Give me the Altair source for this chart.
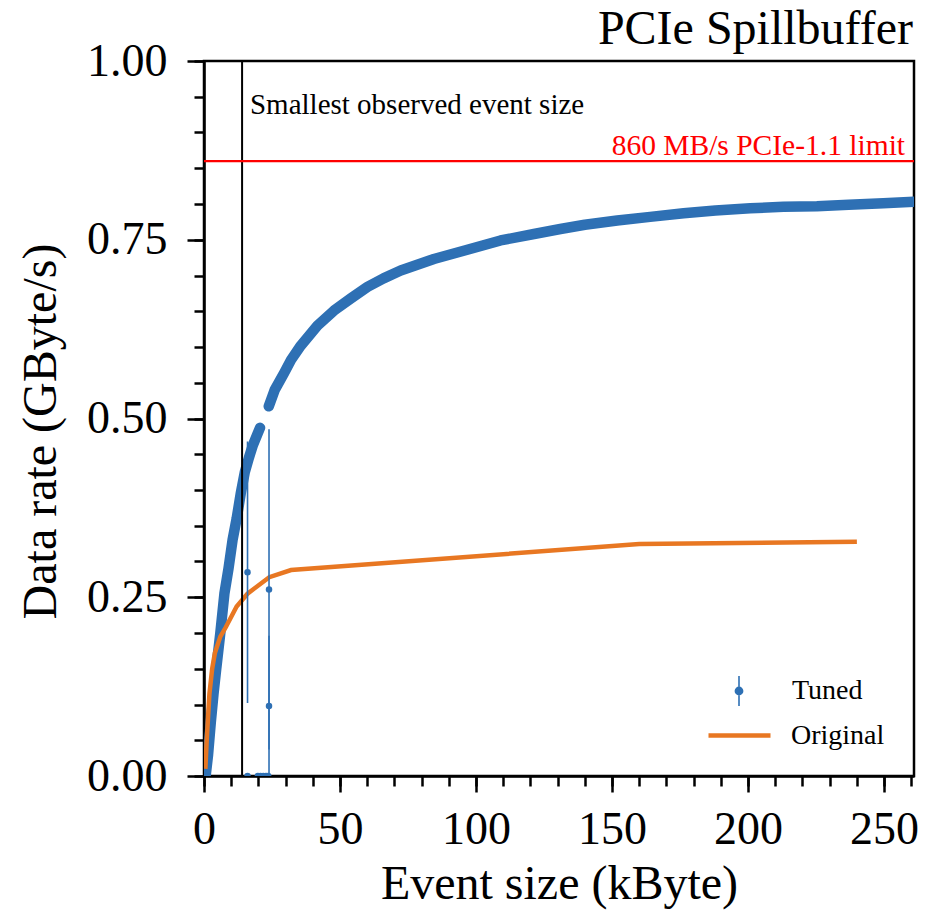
import altair as alt
import pandas as pd

BLUE = "#2e70b4"
ORANGE = "#e87722"
RED = "#ff0000"
FONT = "Liberation Serif"

# ---- Tuned measurement (dense points forming a band), two runs ----
tuned_a_x = [0.6, 1.5, 2.5, 3.5, 4.5, 6.0, 7.5, 9.0, 10.5, 12.0, 13.5, 15.0, 16.5, 18.0, 19.5, 20.6]
tuned_a_y = [0.0, 0.03, 0.075, 0.115, 0.15, 0.2, 0.255, 0.29, 0.33, 0.36, 0.395, 0.425, 0.445, 0.463, 0.477, 0.487]
tuned_b_x = [23.8, 26.0, 29.5, 32.0, 35.6, 41.7, 47.8, 54.0, 60.1, 66.0, 72.3, 84.5, 96.8, 109.0,
             121.3, 131.0, 140.0, 151.9, 164.0, 176.3, 188.0, 200.8, 213.0, 225.3, 237.0, 249.7, 261.0]
tuned_b_y = [0.517, 0.540, 0.564, 0.582, 0.602, 0.630, 0.651, 0.668, 0.684, 0.696, 0.707, 0.723, 0.736, 0.749,
             0.758, 0.765, 0.771, 0.777, 0.782, 0.787, 0.791, 0.794, 0.796, 0.797, 0.799, 0.801, 0.803]

# ---- Tuned isolated points with error bars ----
pts_x = [16.0, 23.9, 23.9, 16.0, 19.8, 20.8, 21.8, 22.8, 23.6]
pts_y = [0.285, 0.261, 0.098, 0.0, 0.0, 0.0, 0.0, 0.0, 0.0]
pts_lo = [0.102, 0.037, 0.0, 0.0, 0.0, 0.0, 0.0, 0.0, 0.0]
pts_hi = [0.468, 0.485, 0.196, 0.0, 0.0, 0.0, 0.0, 0.0, 0.0]

# ---- Original ----
orig_x = [0.5, 1, 2, 3, 4, 6, 8, 12, 16, 24, 32, 160, 240]
orig_y = [0.01, 0.05, 0.115, 0.15, 0.172, 0.195, 0.208, 0.237, 0.255, 0.278, 0.288, 0.3244, 0.3275]

# ---- reference lines / annotations ----
min_event_x = [14.0]
pcie_limit_y = [0.86]
ann_text = ["Smallest observed event size"]
ann_x = [16.9]
ann_y = [0.926]
lim_text = ["860 MB/s PCIe-1.1 limit"]
lim_x = [257.7]
lim_y = [0.8685]
title_text = "PCIe Spillbuffer"

x_major = [0, 50, 100, 150, 200, 250]
x_minor = list(range(0, 261, 10))
y_major = [0.0, 0.25, 0.5, 0.75, 1.0]
y_minor = [round(i * 0.05, 2) for i in range(21)]

W, H = 710, 715

band = pd.DataFrame({
    "x": tuned_a_x + tuned_b_x,
    "y": tuned_a_y + tuned_b_y,
    "run": ["a"] * len(tuned_a_x) + ["b"] * len(tuned_b_x),
})
pts = pd.DataFrame({"x": pts_x, "y": pts_y, "lo": pts_lo, "hi": pts_hi, "series": ["Tuned"] * len(pts_x)})
orig = pd.DataFrame({"x": orig_x, "y": orig_y, "series": ["Original"] * len(orig_x)})

xscale = alt.Scale(domain=[0, 261], nice=False, zero=False)
yscale = alt.Scale(domain=[0, 1], nice=False)

x_axis_major = alt.Axis(
    values=x_major, orient="bottom",
    title="Event size (kByte)",
    tickSize=16, labelPadding=15, labelOverlap=False, labelFlush=False,
    titleY=122, titleBaseline="alphabetic", grid=False,
)
y_axis_major = alt.Axis(
    values=y_major, orient="left",
    title="Data rate (GByte/s)", format=".2f",
    tickSize=17, labelPadding=20, labelOverlap=False, labelFlush=False,
    titleX=-149, titleY=370, titleBaseline="alphabetic", grid=False,
)
x_axis_minor = alt.Axis(values=x_minor, orient="bottom", title=None, labels=False, tickSize=10,
                        domain=False, grid=False)
y_axis_minor = alt.Axis(values=y_minor, orient="left", title=None, labels=False, tickSize=10,
                        domain=False, grid=False)

band_layer = alt.Chart(band).mark_line(strokeWidth=10.5, strokeCap="round", strokeJoin="round", clip=True).encode(
    x=alt.X("x:Q", scale=xscale, axis=x_axis_major),
    y=alt.Y("y:Q", scale=yscale, axis=y_axis_major),
    detail="run:N", color=alt.value(BLUE),
)

orig_layer = alt.Chart(orig).mark_line(strokeWidth=4.5, clip=True).encode(
    x=alt.X("x:Q", scale=xscale, axis=x_axis_minor),
    y=alt.Y("y:Q", scale=yscale, axis=y_axis_minor),
    stroke=alt.Stroke(
        "series:N",
        scale=alt.Scale(domain=["Original"], range=[ORANGE]),
        legend=alt.Legend(
            title=None, orient="none", legendX=502, legendY=641, padding=0,
            symbolType="stroke", symbolSize=3844, symbolStrokeWidth=4.5, labelOffset=18,
            labelFont=FONT, labelFontSize=28, labelColor="black",
        ),
    ),
)

err_layer = alt.Chart(pts).mark_rule(strokeWidth=1.6, clip=True).encode(
    x=alt.X("x:Q", scale=xscale, axis=None), y=alt.Y("lo:Q", scale=yscale, axis=None), y2="hi:Q",
    color=alt.value(BLUE)
)

tuned_path = "M0,-1L0,1M-0.24,0A0.24,0.24 0 1,0 0.24,0A0.24,0.24 0 1,0 -0.24,0Z"
pts_layer = alt.Chart(pts).mark_point(filled=True, size=42, opacity=1, clip=True).encode(
    x=alt.X("x:Q", scale=xscale, axis=None),
    y=alt.Y("y:Q", scale=yscale, axis=None),
    color=alt.Color(
        "series:N",
        scale=alt.Scale(domain=["Tuned"], range=[BLUE]),
        legend=alt.Legend(
            title=None, orient="none", legendX=519, legendY=614, padding=0,
            symbolType=tuned_path, symbolSize=900, labelOffset=37,
            symbolStrokeColor=BLUE, symbolFillColor=BLUE, symbolStrokeWidth=1.6, symbolOpacity=1,
            labelFont=FONT, labelFontSize=28, labelColor="black",
        ),
    ),
)

vline = alt.Chart(pd.DataFrame({"x": min_event_x})).mark_rule(color="black", strokeWidth=2).encode(
    x=alt.X("x:Q", scale=xscale, axis=None)
)
hline = alt.Chart(pd.DataFrame({"y": pcie_limit_y})).mark_rule(color=RED, strokeWidth=2.2).encode(
    y=alt.Y("y:Q", scale=yscale, axis=None)
)
ann = alt.Chart(pd.DataFrame({"x": ann_x, "y": ann_y, "t": ann_text})).mark_text(
    align="left", baseline="alphabetic", font=FONT, fontSize=29, color="black"
).encode(x=alt.X("x:Q", scale=xscale, axis=None), y=alt.Y("y:Q", scale=yscale, axis=None), text="t:N")
lim = alt.Chart(pd.DataFrame({"x": lim_x, "y": lim_y, "t": lim_text})).mark_text(
    align="right", baseline="alphabetic", font=FONT, fontSize=29.5, color=RED
).encode(x=alt.X("x:Q", scale=xscale, axis=None), y=alt.Y("y:Q", scale=yscale, axis=None), text="t:N")

title_layer = alt.Chart(pd.DataFrame({"t": [title_text]})).mark_text(
    align="right", baseline="alphabetic", font=FONT, fontSize=48, color="black"
).encode(x=alt.value(W - 1), y=alt.value(-17), text="t:N")

chart = alt.layer(
    band_layer, orig_layer, vline, hline, err_layer, pts_layer, ann, lim, title_layer
).resolve_axis(
    x="independent", y="independent"
).properties(
    width=W, height=H,
    autosize=alt.AutoSizeParams(type="none"),
    padding={"left": 196, "top": 53, "right": 12, "bottom": 135},
).configure_view(
    stroke="black", strokeWidth=2.5
).configure_axis(
    labelFont=FONT, labelFontSize=46, labelColor="black",
    titleFont=FONT, titleFontSize=48, titleFontWeight="normal", titleColor="black",
    domainColor="black", domainWidth=2.5, tickColor="black", tickWidth=2.5,
).configure_legend(
    labelFont=FONT, labelFontSize=28,
)

chart.save("out.html", embed_options={"renderer": "svg", "actions": False})
